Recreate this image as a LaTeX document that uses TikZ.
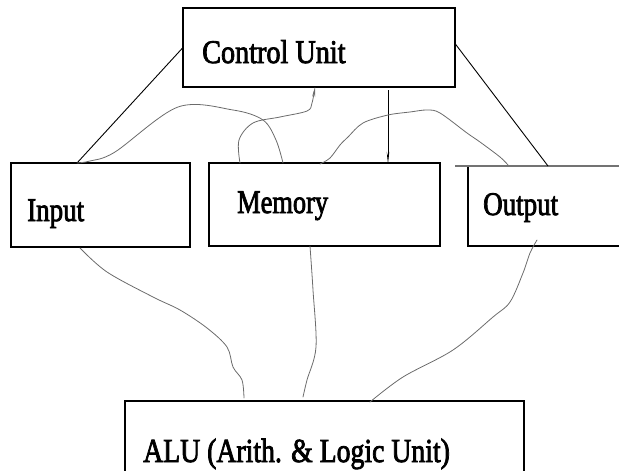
\documentclass[tikz,border=0pt]{standalone}
\usepackage{fontspec}
\newfontfamily\boxfont{Liberation Serif}[FakeBold=2.6]
\usetikzlibrary{calc,arrows.meta}

\begin{document}
\begin{tikzpicture}[x=1pt,y=-1pt,
  unitbox/.style={draw=black, line width=1.2pt, inner sep=0pt, outer sep=0pt},
  boxlabel/.style={anchor=base west, inner sep=0pt, font=\boxfont\fontsize{30}{30}\selectfont},
  wire/.style={draw=black, line width=0.9pt},
  trace/.style={draw=black!58, line width=0.8pt, line join=round, line cap=round},
  sketch/.style={smooth, tension=0.55}]

\useasboundingbox (0,0) rectangle (619,471);
\clip (0,0) rectangle (619,471);

% the five units
\node[unitbox, minimum width=272pt, minimum height=79pt] (cu)  at (319,47.5)  {};
\node[unitbox, minimum width=179pt, minimum height=84pt] (in)  at (100.5,205) {};
\node[unitbox, minimum width=231pt, minimum height=83pt] (mem) at (324.5,204.5) {};
\node[unitbox, minimum width=172pt, minimum height=80pt] (out) at (554,206)   {};
\node[unitbox, minimum width=399pt, minimum height=89pt] (alu) at (324.5,445.5) {};

% top rule of the output unit runs a little past its left side
\draw[draw=black!55, line width=1.2pt] ($(out.north west)+(-13,0)$) -- (out.north east);

% labels, set tall and narrow
\node[boxlabel] (cu-text)  at (202,63)  {\scalebox{0.94}[1.1]{Control Unit}};
\node[boxlabel] (in-text)  at (27,221)  {\scalebox{0.9}[1.1]{Input}};
\node[boxlabel] (mem-text) at (237,213) {\scalebox{0.88}[1.1]{Memory}};
\node[boxlabel] (out-text) at (483,215) {\scalebox{0.9}[1.1]{Output}};
\node[boxlabel] (alu-text) at (143,462) {\scalebox{0.925}[1.12]{ALU (Arith. \& Logic Unit)}};

% attachment points on the box edges
\coordinate (in-top)    at ($(in.north west)+(66,0)$);
\coordinate (in-bot)    at ($(in.south west)+(69,1)$);
\coordinate (mem-top-l) at ($(mem.north west)+(31,0)$);
\coordinate (mem-top-m) at ($(mem.north west)+(74,0)$);
\coordinate (mem-top-r) at ($(mem.north west)+(111,1)$);
\coordinate (mem-arrow) at ($(mem.north west)+(179,1)$);
\coordinate (mem-bot)   at ($(mem.south west)+(101,0)$);
\coordinate (out-top)   at ($(out.north west)+(40,-1)$);
\coordinate (out-cu)    at ($(out.north west)+(80,0)$);
\coordinate (out-bot)   at ($(out.south west)+(69,-6)$);
\coordinate (cu-bot-a)  at ($(cu.south west)+(132,0)$);
\coordinate (cu-bot-v)  at ($(cu.south west)+(205,3)$);
\coordinate (alu-a)     at ($(alu.north west)+(119,-3)$);
\coordinate (alu-b)     at ($(alu.north west)+(178,-4)$);
\coordinate (alu-c)     at ($(alu.north west)+(245,1)$);

% control lines
\draw[wire] (cu.west) -- (in-top);
\draw[wire] ($(cu.east)+(0,-4)$) -- (out-cu);
\draw[wire, -{Stealth[length=12pt,width=2.5pt]}] (cu-bot-v) -- (mem-arrow);

% data paths, hand drawn
\draw[trace] plot[sketch] coordinates {(in-top) (90,161) (115,152) (178,107) (233,110) (263,120) (276,140) (mem-top-m)};
\draw[trace, -{Stealth[length=10pt,width=3pt]}] plot[sketch] coordinates {(mem-top-l) (239,140) (253,123) (280,117) (307,111) (312,103) (cu-bot-a)};
\draw[trace] plot[sketch] coordinates {(mem-top-r) (330,158) (340,145) (348,137) (363,123) (388,115) (410,112) (427,110) (440,113) (467,133) (480,142) (500,157) (out-top)};
\draw[trace] plot[sketch] coordinates {(in-bot) (107,272) (153,297) (180,310) (207,328) (227,347) (233,367) (242,380) (alu-a)};
\draw[trace] plot[sketch] coordinates {(mem-bot) (313,290) (316,347) (307,380) (alu-b)};
\draw[trace] plot[sketch] coordinates {(out-bot) (530,253) (523,273) (510,302) (493,317) (453,350) (403,377) (alu-c)};

\end{tikzpicture}
\end{document}
